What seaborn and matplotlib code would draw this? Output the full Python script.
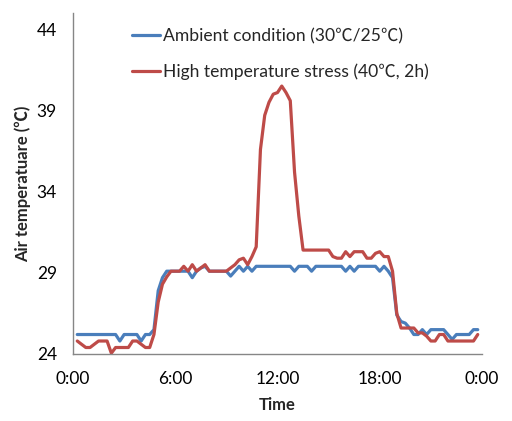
import numpy as np
import pandas as pd
import matplotlib
matplotlib.use("Agg")
import matplotlib.pyplot as plt
import seaborn as sns

# ---- data (sampled every 15 min, 0:15 .. 23:45) ----
hours = [0.25 * i for i in range(1, 96)]

ambient = [
    25.2, 25.2, 25.2, 25.2, 25.2, 25.2, 25.2, 25.2, 25.2, 25.2,   # 1-10
    24.8, 25.2, 25.2, 25.2, 25.2, 24.8, 25.2, 25.2, 25.5, 27.9,   # 11-20
    28.7, 29.1, 29.1, 29.1, 29.1, 29.1, 29.1, 28.7, 29.1, 29.3,   # 21-30
    29.4, 29.1, 29.1, 29.1, 29.1, 29.1, 28.8, 29.1, 29.4, 29.1,   # 31-40
    29.4, 29.1, 29.4, 29.4, 29.4, 29.4, 29.4, 29.4, 29.4, 29.4,   # 41-50
    29.4, 29.1, 29.4, 29.4, 29.4, 29.1, 29.4, 29.4, 29.4, 29.4,   # 51-60
    29.4, 29.4, 29.4, 29.1, 29.4, 29.1, 29.4, 29.4, 29.4, 29.4,   # 61-70
    29.4, 29.1, 29.4, 29.1, 28.7, 26.4, 26.0, 25.9, 25.6, 25.2,   # 71-80
    25.2, 25.5, 25.2, 25.5, 25.5, 25.5, 25.5, 25.2, 24.9, 25.2,   # 81-90
    25.2, 25.2, 25.2, 25.5, 25.5,                                 # 91-95
]

stress = [
    24.8, 24.6, 24.4, 24.4, 24.6, 24.8, 24.8, 24.8, 24.05, 24.4,  # 1-10
    24.4, 24.4, 24.4, 24.8, 24.8, 24.6, 24.4, 24.4, 25.2, 27.2,   # 11-20
    28.3, 28.75, 29.1, 29.1, 29.1, 29.4, 29.1, 29.5, 29.1, 29.3,  # 21-30
    29.5, 29.1, 29.1, 29.1, 29.1, 29.1, 29.3, 29.5, 29.8, 29.9,   # 31-40
    29.5, 30.0, 30.6, 36.6, 38.7, 39.5, 40.0, 40.1, 40.5, 40.1,   # 41-50
    39.6, 35.2, 32.5, 30.4, 30.4, 30.4, 30.4, 30.4, 30.4, 30.4,   # 51-60
    30.0, 29.9, 29.9, 30.3, 30.0, 30.3, 30.3, 30.3, 29.9, 29.9,   # 61-70
    30.2, 30.3, 30.0, 30.0, 29.1, 26.5, 25.6, 25.6, 25.6, 25.6,   # 71-80
    25.3, 25.3, 25.1, 24.8, 24.8, 25.2, 25.2, 24.8, 24.8, 24.8,   # 81-90
    24.8, 24.8, 24.8, 24.8, 25.2,                                 # 91-95
]

series_names = ["Ambient condition (30\u2103/25\u2103)",
                "High temperature stress (40\u2103, 2h)"]
x_ticks = [0, 6, 12, 18, 24]
x_ticklabels = ["0:00", "6:00", "12:00", "18:00", "0:00"]
y_ticks = [24, 29, 34, 39, 44]

df = pd.concat([
    pd.DataFrame({"hour": hours, "temp": ambient, "series": series_names[0]}),
    pd.DataFrame({"hour": hours, "temp": stress, "series": series_names[1]}),
])

sns.set_style("white")
plt.rcParams["font.family"] = ["Lato", "Noto Sans CJK SC", "DejaVu Sans"]

fig = plt.figure(figsize=(5.12, 4.21), dpi=100)
ax = fig.add_axes([73 / 512, 1 - 354 / 421, (482 - 73) / 512, (354 - 13) / 421])

palette = {series_names[0]: "#4A7EBB", series_names[1]: "#BE4B48"}
sns.lineplot(data=df, x="hour", y="temp", hue="series", palette=palette,
             linewidth=2.3, ax=ax, legend=True)

ax.set_xlim(0, 24)
ax.set_ylim(24, 45)
ax.set_xticks(x_ticks)
ax.set_xticklabels(x_ticklabels)
ax.set_yticks(y_ticks)

gray = "#868686"
for s in ["top", "right"]:
    ax.spines[s].set_visible(False)
for s in ["left", "bottom"]:
    ax.spines[s].set_color(gray)
    ax.spines[s].set_linewidth(1.0)
ax.tick_params(axis="both", direction="out", length=4.5, width=1.0, color=gray,
               labelsize=12.5, labelcolor="black")
ax.tick_params(axis="y", pad=7)
ax.tick_params(axis="x", pad=8)

ax.set_xlabel("Time", fontsize=12, fontweight="bold", labelpad=7)
ax.set_ylabel("Air temperatuare (\u2103)", fontsize=12, fontweight="bold", labelpad=4)

handles, labels = ax.get_legend_handles_labels()
ax.legend(handles, labels, loc="upper left", bbox_to_anchor=(132 / 512, 1 - 28 / 421),
          bbox_transform=fig.transFigure, frameon=False, fontsize=12.6,
          handlelength=1.6, handletextpad=0.15, labelspacing=1.1, borderpad=0,
          borderaxespad=0)

fig.savefig("out.png", dpi=100)
